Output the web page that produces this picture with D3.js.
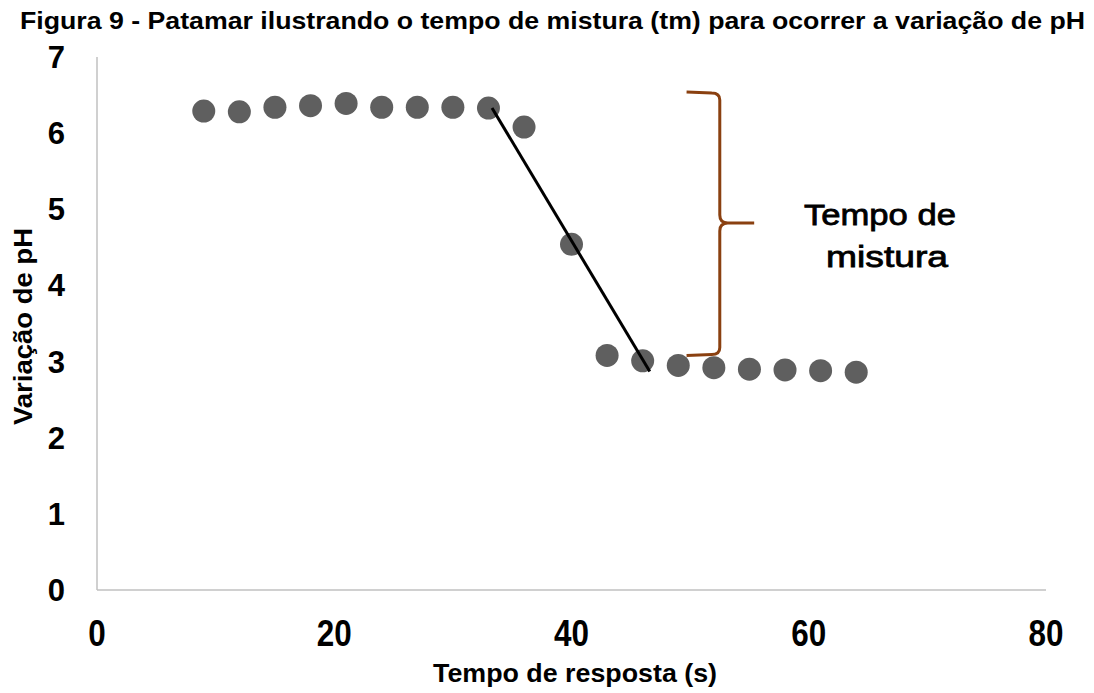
<!DOCTYPE html>
<html>
<head>
<meta charset="utf-8">
<script src="https://cdn.jsdelivr.net/npm/d3@7"></script>
<style>
  html, body { margin: 0; padding: 0; background: #fff; }
  svg { display: block; font-family: "Liberation Sans", Arial, sans-serif; }
</style>
</head>
<body>
<svg id="chart" width="1094" height="693"></svg>
<script>
// ---- data ----
const timeS = [9, 12, 15, 18, 21, 24, 27, 30, 33, 36, 40, 43, 46, 49, 52, 55, 58, 61, 64];
const phValues = [6.29, 6.28, 6.34, 6.36, 6.39, 6.34, 6.34, 6.34, 6.33, 6.08, 4.54, 3.08, 3.01, 2.95, 2.92, 2.90, 2.89, 2.88, 2.86];
const trendX = [33.3, 46.6];
const trendY = [6.33, 2.87];
const xTicks = [0, 20, 40, 60, 80];
const yTicks = [0, 1, 2, 3, 4, 5, 6, 7];
const braceX = [49.7, 52.5, 55.4];   // tips, spine, point
const braceY = [6.54, 4.82, 3.08];   // top, middle, bottom
const noteLines = ["Tempo de", "mistura"];
const noteX = [66.0, 66.6];
const noteY = [4.79, 4.24];
const titleText = "Figura 9 - Patamar ilustrando o tempo de mistura (tm) para ocorrer a variação de pH";
const xTitle = "Tempo de resposta (s)";
const yTitle = "Variação de pH";

const svg = d3.select("#chart");
const x = d3.scaleLinear().domain([0, 80]).range([97, 1046]);
const y = d3.scaleLinear().domain([0, 7]).range([590, 57]);

// title
svg.append("text")
  .attr("x", 20).attr("y", 29)
  .attr("font-size", 24).attr("font-weight", "bold")
  .attr("textLength", 1065).attr("lengthAdjust", "spacingAndGlyphs")
  .attr("fill", "#000")
  .text(titleText);

// axes lines
svg.append("line").attr("x1", x(0)).attr("x2", x(0)).attr("y1", y(7)).attr("y2", y(0))
  .attr("stroke", "#c0c0c0").attr("stroke-width", 1.5);
svg.append("line").attr("x1", x(0)).attr("x2", x(80)).attr("y1", y(0)).attr("y2", y(0))
  .attr("stroke", "#c0c0c0").attr("stroke-width", 1.5);

// y tick labels
svg.append("g").selectAll("text").data(yTicks).join("text")
  .attr("x", 65).attr("y", d => y(d) + 11)
  .attr("text-anchor", "end")
  .attr("font-size", 31).attr("font-weight", "bold")
  .text(d => d);

// x tick labels (condensed)
svg.append("g").selectAll("text").data(xTicks).join("text")
  .attr("transform", d => `translate(${x(d)},646) scale(0.85,1)`)
  .attr("text-anchor", "middle")
  .attr("font-size", 37).attr("font-weight", "bold")
  .text(d => d);

// axis titles
svg.append("text")
  .attr("x", 433).attr("y", 682)
  .attr("font-size", 25).attr("font-weight", "bold")
  .attr("textLength", 284).attr("lengthAdjust", "spacingAndGlyphs")
  .text(xTitle);
svg.append("text")
  .attr("transform", "translate(32,425) rotate(-90)")
  .attr("font-size", 26).attr("font-weight", "bold")
  .attr("textLength", 197).attr("lengthAdjust", "spacingAndGlyphs")
  .text(yTitle);

// points
const pts = timeS.map((t, i) => ({t, v: phValues[i]}));
svg.append("g").selectAll("circle").data(pts).join("circle")
  .attr("cx", d => x(d.t)).attr("cy", d => y(d.v)).attr("r", 11.5)
  .attr("fill", "#5f5f5f");

// trend line
svg.append("line")
  .attr("x1", x(trendX[0])).attr("y1", y(trendY[0]))
  .attr("x2", x(trendX[1])).attr("y2", y(trendY[1]))
  .attr("stroke", "#000").attr("stroke-width", 3);

// brace
const bx0 = x(braceX[0]), bx1 = x(braceX[1]), bx2 = x(braceX[2]);
const by0 = y(braceY[0]), by1 = y(braceY[1]), by2 = y(braceY[2]);
const r = 8;
const p = d3.path();
p.moveTo(bx0, by0);
p.lineTo(bx1 - r, by0 + 1);
p.quadraticCurveTo(bx1, by0 + 1, bx1, by0 + r);
p.lineTo(bx1, by1 - r);
p.quadraticCurveTo(bx1, by1, bx1 + r, by1);
p.lineTo(bx2, by1);
p.moveTo(bx1 + r, by1);
p.quadraticCurveTo(bx1, by1, bx1, by1 + r);
p.lineTo(bx1, by2 - r);
p.quadraticCurveTo(bx1, by2 - 1, bx1 - r, by2 - 1);
p.lineTo(bx0, by2);
svg.append("path").attr("d", p.toString())
  .attr("fill", "none").attr("stroke", "#8a4010").attr("stroke-width", 3)
  .attr("stroke-linejoin", "round");

// note text
svg.append("g").selectAll("text").data(noteLines).join("text")
  .attr("x", (d, i) => x(noteX[i])).attr("y", (d, i) => y(noteY[i]))
  .attr("text-anchor", "middle")
  .attr("font-size", 30)
  .attr("stroke", "#000").attr("stroke-width", 0.8)
  .attr("textLength", (d, i) => i === 0 ? 152 : 122).attr("lengthAdjust", "spacingAndGlyphs")
  .text(d => d);
</script>
</body>
</html>
